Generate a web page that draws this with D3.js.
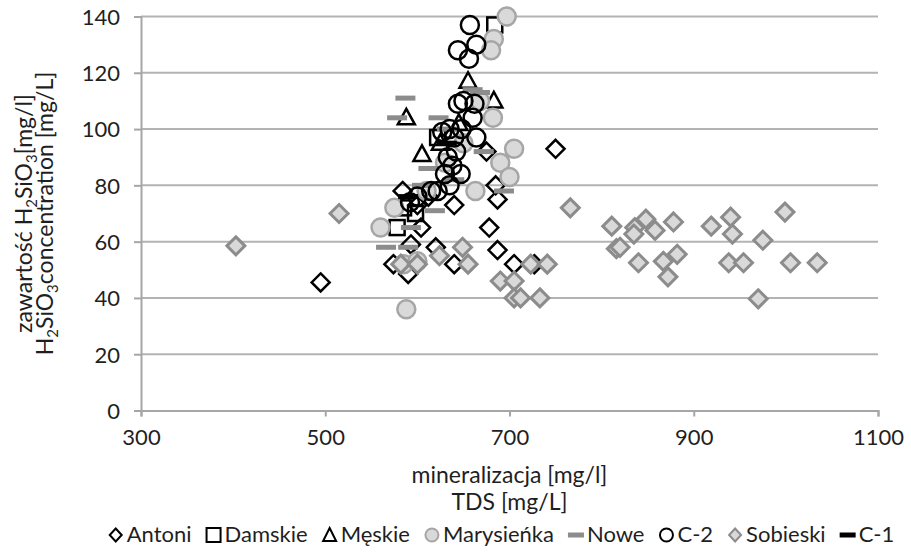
<!DOCTYPE html>
<html>
<head>
<meta charset="utf-8">
<script src="https://cdn.jsdelivr.net/npm/d3@7"></script>
<style>
body{margin:0;background:#fff}
text{font-family:Lato,"Open Sans",sans-serif;fill:#1f1f1f}
</style>
</head>
<body>
<svg width="911" height="553"></svg>
<script>
// [TDS mg/l, H2SiO3 mg/l]
const antoni=[[495,45.5],[750,93],[574,52],[590,48.5],[593,59],[620,58],[640,52],[604,65],[584,78],[640,73],
              [678,65],[687,57],[705,52],[727,52],[685,80],[687,75],[675,92],[600,73],[612,76]];
const damskie=[[684,137],[578,65],[585,72],[598,70],[622,97]];
const meskie=[[655,117],[683,110],[588,104],[605,91],[625,95],[645,102]];
const marysienka=[[697,140],[683,132],[680,128],[682,104],[668,110],[705,93],[690,88],[663,78],[700,83],
                  [610,78],[560,65],[575,72],[588,36],[585,52],[600,53],[650,95],[630,88]];
const nowe=[[660,114],[668,113],[587,111],[578,104],[623,104],[632,100],[566,58],[590,58],[593,65],
            [619,71],[694,78],[640,82],[612,86],[672,92],[605,80]];
const c2=[[657,137],[664,130],[644,128],[656,125],[644,109],[650,110],[662,109],[660,104],[648,100],
          [635,100],[627,99],[640,97],[664,97],[633,90],[642,92],[647,84],[630,84],[635,80],[622,78],
          [615,78],[600,76],[592,74],[638,87]];
const sobieski=[[403,58.5],[515,70],[582,52],[600,52],[624,55],[649,58],[655,52],[690,46],[705,46],
                [705,40],[712,40],[733,40],[723,52],[741,52],[766,72],[811,65.5],[816,57.5],[820,58],
                [836,65],[848,68],[835,62.7],[858,64],[878,67],[840,52.5],[867,53],[872,47.5],[882,55.5],
                [919,65.5],[940,68.7],[942,62.7],[938,52.5],[954,52.5],[975,60.5],[970,39.7],[999,70.5],
                [1005,52.5],[1034,52.5]];
const c1=[[590,76],[632,95]];
const xTicks=[300,500,700,900,1100];
const yTicks=[0,20,40,60,80,100,120,140];

const series=[
  {name:"Antoni",data:antoni,type:"diamond",fill:"none",stroke:"#000"},
  {name:"Damskie",data:damskie,type:"square",fill:"none",stroke:"#000"},
  {name:"Męskie",data:meskie,type:"triangle",fill:"none",stroke:"#000"},
  {name:"Marysieńka",data:marysienka,type:"circle",fill:"#d9d9d9",stroke:"#a6a6a6"},
  {name:"Nowe",data:nowe,type:"dash",fill:"#8c8c8c",stroke:"none"},
  {name:"C-2",data:c2,type:"circle",fill:"none",stroke:"#000"},
  {name:"Sobieski",data:sobieski,type:"diamond",fill:"#d9d9d9",stroke:"#8c8c8c"},
  {name:"C-1",data:c1,type:"dash",fill:"#000",stroke:"none"}
];

const svg=d3.select("svg");
const pLeft=141, pRight=878, pTop=16.5, pBottom=410.5;
const x=d3.scaleLinear().domain([300,1100]).range([pLeft,pRight]);
const y=d3.scaleLinear().domain([0,140]).range([pBottom,pTop]);

// gridlines
svg.append("g").selectAll("line").data(yTicks.filter(d=>d>0)).enter().append("line")
   .attr("x1",pLeft).attr("x2",pRight).attr("y1",d=>y(d)).attr("y2",d=>y(d))
   .attr("stroke","#b3b3b3").attr("stroke-width",2);

// axes
const xAxis=svg.append("g").attr("transform","translate(0,"+pBottom+")")
   .call(d3.axisBottom(x).tickValues(xTicks).tickFormat(d3.format("d")).tickSize(6).tickPadding(13));
const yAxis=svg.append("g").attr("transform","translate("+pLeft+",0)")
   .call(d3.axisLeft(y).tickValues(yTicks).tickSize(7).tickPadding(14));
[xAxis,yAxis].forEach(a=>{
  a.select(".domain").attr("stroke","#a6a6a6").attr("stroke-width",2);
  a.selectAll(".tick line").attr("stroke","#a6a6a6").attr("stroke-width",2);
  a.selectAll(".tick text").attr("font-size","22px").attr("fill","#1f1f1f");
});
yAxis.selectAll(".tick text").attr("dy","0.36em");

// markers
function marker(sel,type){
  if(type==="circle") return sel.append("circle").attr("r",9);
  if(type==="square") return sel.append("rect").attr("x",-7.5).attr("y",-7.5).attr("width",15).attr("height",15);
  if(type==="dash") return sel.append("rect").attr("x",-10).attr("y",-2.5).attr("width",20).attr("height",5);
  if(type==="triangle") return sel.append("path").attr("d","M0,-9L8.5,6.5L-8.5,6.5Z");
  return sel.append("path").attr("d","M0,-9L9,0L0,9L-9,0Z");
}
series.forEach(s=>{
  const g=svg.append("g");
  g.selectAll("g").data(s.data).enter().append("g")
   .attr("transform",d=>"translate("+x(d[0])+","+y(d[1])+")")
   .each(function(){
     marker(d3.select(this),s.type).attr("fill",s.fill).attr("stroke",s.stroke)
       .attr("stroke-width",s.type==="diamond"&&s.fill!=="none"?3:2.5);
   });
});

// axis titles
svg.append("text").attr("x",(pLeft+pRight)/2).attr("y",483).attr("text-anchor","middle")
   .attr("font-size","23px").text("mineralizacja [mg/l]");
svg.append("text").attr("x",(pLeft+pRight)/2).attr("y",510).attr("text-anchor","middle")
   .attr("font-size","23px").text("TDS [mg/L]");

function h2sio3(t){
  t.append("tspan").text("H");
  t.append("tspan").attr("font-size","15px").attr("dy",5).text("2");
  t.append("tspan").attr("dy",-5).text("SiO");
  t.append("tspan").attr("font-size","15px").attr("dy",5).text("3");
}
const t1=svg.append("text").attr("transform","translate(32,"+(pTop+pBottom)/2+") rotate(-90)")
   .attr("text-anchor","middle").attr("font-size","23px");
t1.append("tspan").text("zawartość ");
h2sio3(t1);
t1.append("tspan").attr("dy",-5).text("[mg/l]");
const t2=svg.append("text").attr("transform","translate(53,"+(pTop+pBottom)/2+") rotate(-90)")
   .attr("text-anchor","middle").attr("font-size","23px");
h2sio3(t2);
t2.append("tspan").attr("dy",-5).text("concentration [mg/L]");

// legend
const legend=svg.append("g");
let lx=0;
series.forEach(s=>{
  const it=legend.append("g").attr("transform","translate("+lx+",0)");
  const m=it.append("g").attr("transform","translate(8,-7)");
  const mk=marker(m,s.type).attr("fill",s.fill).attr("stroke",s.stroke).attr("stroke-width",2);
  if(s.type==="circle") mk.attr("r",6.5);
  if(s.type==="diamond") mk.attr("d","M0,-6.5L6,0L0,6.5L-6,0Z");
  if(s.type==="square") mk.attr("x",-7).attr("y",-7).attr("width",14).attr("height",14);
  if(s.type==="triangle") mk.attr("d","M0,-7L6.5,6L-6.5,6Z");
  if(s.type==="dash") mk.attr("x",-8).attr("y",-2.5).attr("width",16).attr("height",5);
  const tx=it.append("text").attr("x",19).attr("font-size","22px").text(s.name);
  lx+=19+tx.node().getComputedTextLength()+14;
});
lx-=14;
legend.attr("transform","translate("+(501-lx/2)+",542)");
</script>
</body>
</html>
